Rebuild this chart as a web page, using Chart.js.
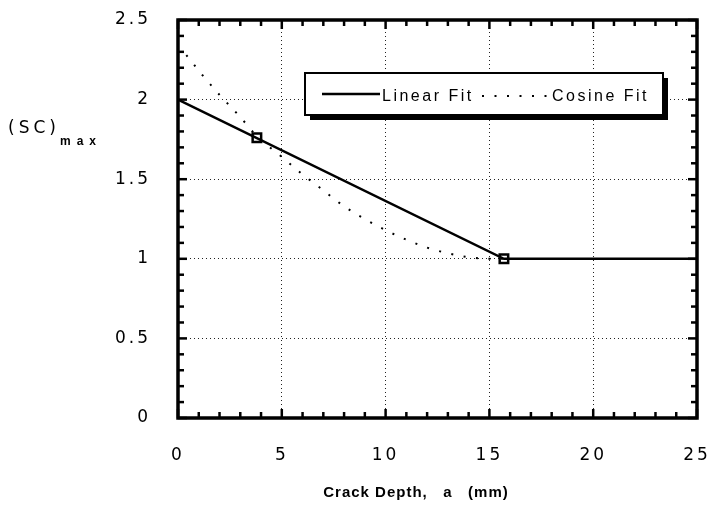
<!DOCTYPE html>
<html>
<head>
<meta charset="utf-8">
<script src="https://cdn.jsdelivr.net/npm/chart.js@4/dist/chart.umd.min.js"></script>
<style>
  html, body { margin: 0; padding: 0; background: #fff; }
  #wrap { width: 711px; height: 511px; }
</style>
</head>
<body>
<div id="wrap"><canvas id="chart" width="711" height="511"></canvas></div>
<script>
// crack depth a (mm) against (SC)max
var linearDepth = [0, 15.7, 25];
var linearSC = [2.0, 1.0, 1.0];

var cosineDepth = [0.4, 1.2, 2.0, 3.0, 3.8, 5.0, 6.0, 7.0, 8.0, 9.0, 10.0, 11.0, 12.0, 13.0, 14.0, 15.0, 15.7];
var cosineSC = [2.28, 2.15, 2.03, 1.89, 1.77, 1.64, 1.53, 1.43, 1.33, 1.25, 1.18, 1.12, 1.07, 1.035, 1.01, 1.0, 1.0];

var markDepth = [3.8, 15.7];
var markSC = [1.76, 1.0];

var xTicks = [0, 5, 10, 15, 20, 25];
var yTicks = [0, 0.5, 1, 1.5, 2, 2.5];

var xTitle = "Crack Depth,   a   (mm)";
var yTitle = "(SC)";
var ySub = "max";

function toPoints(xs, ys) {
  return xs.map(function (x, i) {
    return { x: x, y: ys[i] };
  });
}

function line(ctx, x1, y1, x2, y2) {
  ctx.beginPath();
  ctx.moveTo(x1, y1);
  ctx.lineTo(x2, y2);
  ctx.stroke();
}

// tick labels are drawn letter-spaced, everything else normal
var spacing = {
  id: "spacing",
  beforeDraw: function (chart) {
    chart.ctx.letterSpacing = "3px";
  },
  beforeDatasetsDraw: function (chart) {
    chart.ctx.letterSpacing = "0px";
  }
};

// box frame, inward ticks, boxed legend and axis labels
var frame = {
  id: "frame",
  afterDatasetsDraw: function (chart) {
    var ctx = chart.ctx;
    var a = chart.chartArea;
    var xs = chart.scales.x;
    var ys = chart.scales.y;
    var v, p, len;

    ctx.save();
    ctx.letterSpacing = "0px";
    ctx.strokeStyle = "#000";
    ctx.lineWidth = 2.5;
    for (v = 0; v <= 25; v++) {
      p = xs.getPixelForValue(v);
      len = v % 5 === 0 ? 9 : 6;
      line(ctx, p, a.bottom, p, a.bottom - len);
      line(ctx, p, a.top, p, a.top + len);
    }
    for (v = 0; v <= 25; v++) {
      p = ys.getPixelForValue(v / 10);
      len = v % 5 === 0 ? 9 : 6;
      line(ctx, a.left, p, a.left + len, p);
      line(ctx, a.right, p, a.right - len, p);
    }
    ctx.lineWidth = 3.5;
    ctx.strokeRect(a.left, a.top, a.right - a.left, a.bottom - a.top);

    // legend box with drop shadow
    var ds = chart.data.datasets;
    var bx = a.left + 127, by = a.top + 53, bw = 358, bh = 42;
    ctx.fillStyle = "#000";
    ctx.fillRect(bx + 5, by + 5, bw, bh);
    ctx.fillStyle = "#fff";
    ctx.fillRect(bx, by, bw, bh);
    ctx.lineWidth = 2;
    ctx.strokeRect(bx, by, bw, bh);

    var ly = by + 21;
    ctx.lineWidth = ds[0].borderWidth;
    line(ctx, bx + 17, ly, bx + 75, ly);
    ctx.setLineDash(ds[1].borderDash);
    ctx.lineWidth = ds[1].borderWidth;
    line(ctx, bx + 177, ly + 2, bx + 245, ly + 2);
    ctx.setLineDash([]);

    ctx.fillStyle = "#000";
    ctx.font = "16px 'Liberation Sans', Arial, sans-serif";
    ctx.letterSpacing = "2.5px";
    ctx.textBaseline = "alphabetic";
    ctx.textAlign = "left";
    ctx.fillText(ds[0].label, bx + 77, by + 28);
    ctx.fillText(ds[1].label, bx + 247, by + 28);

    // axis titles
    ctx.font = "bold 15px 'Liberation Sans', Arial, sans-serif";
    ctx.letterSpacing = "1px";
    ctx.textAlign = "center";
    ctx.textBaseline = "middle";
    ctx.fillText(xTitle, 416, 493);

    ctx.textAlign = "left";
    ctx.textBaseline = "alphabetic";
    ctx.font = "17px 'DejaVu Sans', sans-serif";
    ctx.letterSpacing = "4px";
    ctx.fillText(yTitle, 8, 133);
    ctx.font = "bold 12px 'Liberation Sans', Arial, sans-serif";
    ctx.letterSpacing = "6px";
    ctx.fillText(ySub, 60, 145);
    ctx.restore();
  }
};

var tickFont = { family: "'DejaVu Sans', sans-serif", size: 17 };

function plainLabel(value) {
  return String(value);
}

new Chart(document.getElementById("chart"), {
  type: "line",
  data: {
    datasets: [
      {
        label: "Linear Fit",
        data: toPoints(linearDepth, linearSC),
        borderColor: "#000",
        borderWidth: 2.5,
        pointRadius: 0,
        tension: 0
      },
      {
        label: "Cosine Fit",
        data: toPoints(cosineDepth, cosineSC),
        borderColor: "#000",
        borderWidth: 2,
        borderDash: [2, 10.5],
        borderCapStyle: "butt",
        pointRadius: 0,
        cubicInterpolationMode: "monotone"
      },
      {
        label: "",
        data: toPoints(markDepth, markSC),
        showLine: false,
        pointStyle: "rect",
        pointRadius: 6,
        borderWidth: 2.5,
        borderColor: "#000",
        backgroundColor: "#fff"
      }
    ]
  },
  options: {
    responsive: false,
    animation: false,
    devicePixelRatio: 1,
    layout: { padding: { top: 20, right: 14, left: 0, bottom: 0 } },
    plugins: {
      legend: { display: false },
      tooltip: { enabled: false }
    },
    scales: {
      x: {
        type: "linear",
        min: 0,
        max: 25,
        afterBuildTicks: function (axis) {
          axis.ticks = xTicks.map(function (v) { return { value: v }; });
        },
        afterFit: function (scale) {
          scale.height = 93;
          scale.paddingLeft = 0;
          scale.paddingRight = 0;
        },
        ticks: {
          color: "#000",
          font: tickFont,
          padding: 27,
          maxRotation: 0,
          callback: plainLabel
        },
        grid: { color: "#222", lineWidth: 1, drawTicks: false },
        border: { display: false, dash: [1, 3] }
      },
      y: {
        min: 0,
        max: 2.5,
        afterBuildTicks: function (axis) {
          axis.ticks = yTicks.map(function (v) { return { value: v }; });
        },
        afterFit: function (scale) {
          scale.width = 178;
          scale.paddingTop = 0;
          scale.paddingBottom = 0;
        },
        ticks: {
          color: "#000",
          font: tickFont,
          padding: 27,
          callback: plainLabel
        },
        grid: { color: "#222", lineWidth: 1, drawTicks: false },
        border: { display: false, dash: [1, 3] }
      }
    }
  },
  plugins: [spacing, frame]
});
</script>
</body>
</html>
